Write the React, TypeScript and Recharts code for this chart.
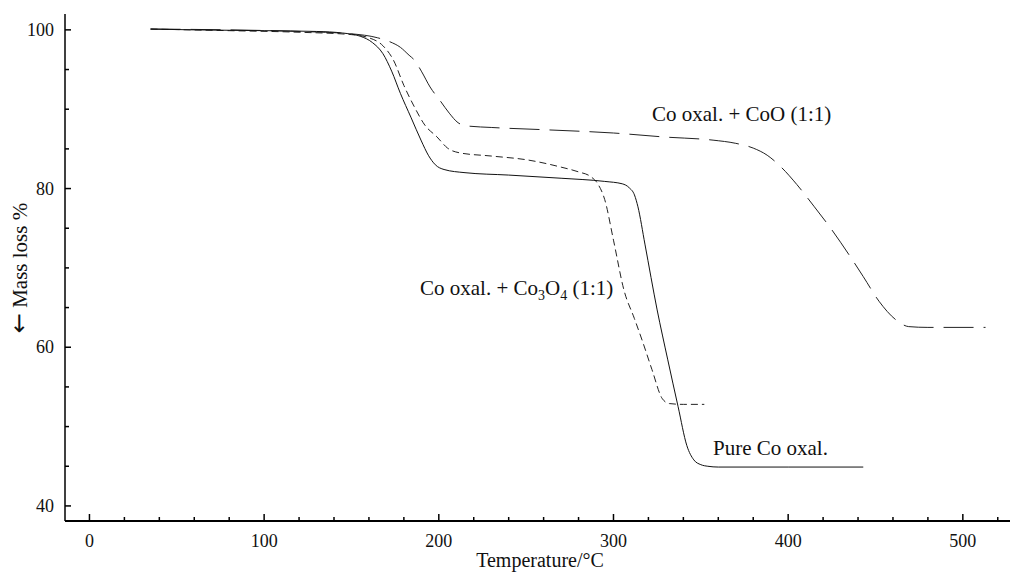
import React from 'react';
import { LineChart, Line, XAxis, YAxis } from 'recharts';

// Pure Co oxalate (solid)
const pureT = [35, 60, 100, 130, 145, 155, 162, 168, 173, 178, 184, 190, 194, 198, 203, 215, 240, 270, 295, 305, 309, 312, 314, 318, 325, 331, 337, 342, 346, 350, 354, 360, 400, 443];
const pureM = [100.1, 100.0, 99.9, 99.8, 99.6, 99.2, 98.4, 97.0, 94.8, 92.0, 89.0, 86.0, 84.2, 83.0, 82.4, 82.0, 81.7, 81.3, 80.9, 80.6, 80.1, 79.2, 77.7, 73.0, 64.7, 58.5, 52.5, 47.6, 45.8, 45.2, 45.0, 44.9, 44.9, 44.9];

// Co oxal. + Co3O4 (1:1) (short dashes)
const co3o4T = [35, 80, 120, 150, 160, 168, 174, 180, 186, 192, 199, 205, 212, 230, 251, 270, 280, 287, 291, 295, 300, 306, 312, 317, 322, 328, 332, 340, 352];
const co3o4M = [100.1, 99.9, 99.7, 99.4, 99.0, 98.0, 96.2, 93.0, 90.3, 88.0, 86.5, 85.1, 84.5, 84.1, 83.6, 82.7, 82.1, 81.5, 80.6, 78.6, 73.5, 67.2, 63.6, 60.5, 57.2, 53.5, 52.9, 52.8, 52.8];

// Co oxal. + CoO (1:1) (long dashes)
const cooT = [35, 80, 120, 150, 165, 172, 178, 183, 186, 190, 195, 201, 206, 211, 216, 230, 262, 300, 329, 357, 370, 380, 388, 396, 405, 415, 425, 435, 443, 452, 462, 469, 480, 513];
const cooM = [100.1, 100.0, 99.8, 99.5, 99.0, 98.5, 97.8, 96.8, 96.2, 94.8, 92.8, 91.0, 89.5, 88.3, 87.9, 87.7, 87.4, 87.0, 86.5, 86.1, 85.7, 85.1, 84.2, 82.7, 80.5, 77.7, 74.8, 71.6, 68.9, 65.8, 63.4, 62.6, 62.5, 62.5];

const xTicks = [0, 20, 40, 60, 80, 100, 120, 140, 160, 180, 200, 220, 240, 260, 280, 300, 320, 340, 360, 380, 400, 420, 440, 460, 480, 500, 520];
const yTicks = [40, 45, 50, 55, 60, 65, 70, 75, 80, 85, 90, 95, 100];
const xLabelTicks = [0, 100, 200, 300, 400, 500];
const yLabelTicks = [40, 60, 80, 100];

const build = (ts: number[], ms: number[]) => ts.map((t, i) => ({ t, m: ms[i] }));
const pureData = build(pureT, pureM);
const co3o4Data = build(co3o4T, co3o4M);
const cooData = build(cooT, cooM);

const FONT = '"Liberation Serif", "Times New Roman", serif';

const XTick = (props: any) => {
  const { x, y, payload } = props;
  const v = payload.value;
  const major = xLabelTicks.includes(v);
  return (
    <g>
      <line x1={x} x2={x} y1={y} y2={y - (major ? 7 : 4)} stroke="#000" strokeWidth={1.5} />
      {major && (
        <text x={x} y={y + 26} textAnchor="middle" fontFamily={FONT} fontSize={18} fill="#111">
          {v}
        </text>
      )}
    </g>
  );
};

const YTick = (props: any) => {
  const { x, y, payload } = props;
  const v = payload.value;
  const major = yLabelTicks.includes(v);
  return (
    <g>
      <line x1={x} x2={x + (major ? 6 : 4)} y1={y} y2={y} stroke="#000" strokeWidth={1.5} />
      {major && (
        <text x={x - 11} y={y + 6} textAnchor="end" fontFamily={FONT} fontSize={18} fill="#111">
          {v}
        </text>
      )}
    </g>
  );
};

export default function App() {
  return (
    <div style={{ position: 'absolute', left: 0, top: 0, width: 1016, height: 573, background: '#fff' }}>
      <LineChart width={1016} height={573} margin={{ top: 14, right: 6, bottom: 0, left: 5 }}>
        <XAxis
          dataKey="t"
          type="number"
          domain={[-14, 527]}
          allowDataOverflow
          ticks={xTicks}
          interval={0}
          tick={<XTick />}
          tickLine={false}
          tickSize={0}
          tickMargin={0}
          height={52}
          axisLine={{ stroke: '#000', strokeWidth: 2 }}
        />
        <XAxis
          xAxisId="top"
          orientation="top"
          dataKey="t"
          type="number"
          domain={[-14, 527]}
          tick={false}
          tickLine={false}
          height={0}
          axisLine={{ stroke: '#000', strokeWidth: 2 }}
        />
        <YAxis
          dataKey="m"
          type="number"
          domain={[38.1, 102]}
          allowDataOverflow
          ticks={yTicks}
          interval={0}
          tick={<YTick />}
          tickLine={false}
          tickSize={0}
          tickMargin={0}
          width={60}
          axisLine={{ stroke: '#000', strokeWidth: 1.5 }}
        />
        <Line data={cooData} dataKey="m" type="monotone" stroke="#222" strokeWidth={1} strokeDasharray="30 10" dot={false} isAnimationActive={false} />
        <Line data={co3o4Data} dataKey="m" type="monotone" stroke="#222" strokeWidth={1} strokeDasharray="7 4" dot={false} isAnimationActive={false} />
        <Line data={pureData} dataKey="m" type="monotone" stroke="#111" strokeWidth={1} dot={false} isAnimationActive={false} />
      </LineChart>
      <svg width={1016} height={573} style={{ position: 'absolute', left: 0, top: 0, pointerEvents: 'none' }}>
        <g fontFamily={FONT} fontSize={21} fill="#111">
          <text x={652} y={121}>Co oxal. + CoO (1:1)</text>
          <text x={420} y={295}>
            Co oxal. + Co
            <tspan fontSize={14} dy={5}>3</tspan>
            <tspan dy={-5}>O</tspan>
            <tspan fontSize={14} dy={5}>4</tspan>
            <tspan dy={-5}> (1:1)</tspan>
          </text>
          <text x={713} y={455}>Pure Co oxal.</text>
          <text x={540} y={567} textAnchor="middle" fontSize={20}>Temperature/°C</text>
          <text transform="translate(27,268) rotate(-90)" textAnchor="middle" fontSize={21}>
            <tspan fontFamily='"DejaVu Sans", sans-serif' fontSize={24}>←</tspan> Mass loss %
          </text>
        </g>
      </svg>
    </div>
  );
}
